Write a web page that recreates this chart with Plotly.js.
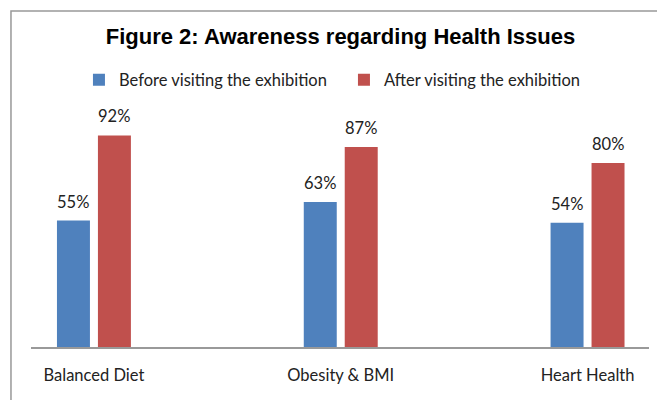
<!DOCTYPE html>
<html>
<head>
<meta charset="utf-8">
<script src="https://cdn.plot.ly/plotly-3.0.1.min.js"></script>
<style>
html,body{margin:0;padding:0;background:#fff;}
#chart{width:657px;height:400px;}
</style>
</head>
<body>
<div id="chart"></div>
<script>
var categories = ["Balanced Diet", "Obesity & BMI", "Heart Health"];
var seriesNames = ["Before visiting the exhibition", "After visiting the exhibition"];
var beforeValues = [55, 63, 54];
var afterValues = [92, 87, 80];
var titleText = "Figure 2: Awareness regarding Health Issues";

var colors = ["#4F81BD", "#C0504D"];
var xIdx = categories.map(function(c, i){ return i; });
var labelFont = "Lato, 'Open Sans', sans-serif";

var traces = [beforeValues, afterValues].map(function(vals, k){
  return {
    type: "bar",
    name: seriesNames[k],
    x: xIdx,
    y: vals,
    marker: {color: colors[k], line: {width: 0}},
    hoverinfo: "none"
  };
});

var annotations = [];
[beforeValues, afterValues].forEach(function(vals, k){
  vals.forEach(function(v, i){
    annotations.push({
      x: i, y: v, xref: "x", yref: "y",
      text: v + "%",
      showarrow: false,
      xanchor: "center", yanchor: "bottom",
      xshift: (k === 0 ? -20.5 : 20.5),
      yshift: 7,
      font: {family: labelFont, size: 16.5, color: "#222"}
    });
  });
});

var layout = {
  width: 657, height: 400,
  margin: {l: 31, r: 8, t: 117, b: 53, pad: 0},
  paper_bgcolor: "#fff", plot_bgcolor: "#fff",
  barmode: "group",
  bargap: 0.668,
  bargroupgap: 0.195,
  title: {
    text: "<b>" + titleText + "</b>",
    font: {family: "'Liberation Sans', Arial, sans-serif", size: 22, color: "#000"},
    x: 0.5008, xanchor: "center", xref: "paper",
    y: 1 - 36/400, yanchor: "middle"
  },
  showlegend: true,
  legend: {
    orientation: "h",
    x: 0.0776, xanchor: "left", xref: "paper",
    y: 1 - 80/400, yanchor: "middle", yref: "container",
    font: {family: labelFont, size: 16.5, color: "#222"},
    itemwidth: 30,
    entrywidth: 220, entrywidthmode: "pixels",
    tracegroupgap: 0,
    bgcolor: "rgba(0,0,0,0)"
  },
  xaxis: {
    range: [-0.255, 2.249],
    tickvals: xIdx,
    ticktext: categories,
    showgrid: false, zeroline: false,
    showline: true, linecolor: "#999", linewidth: 1.5,
    ticks: "outside", ticklen: 13, tickcolor: "rgba(0,0,0,0)",
    tickfont: {family: labelFont, size: 16.5, color: "#222"},
    fixedrange: true
  },
  yaxis: {
    range: [0, 100],
    visible: false,
    showgrid: false, zeroline: false,
    fixedrange: true
  },
  annotations: annotations,
  shapes: [{
    type: "path", xref: "paper", yref: "paper",
    path: "M -0.0324 -0.5 L -0.0324 1.4609 L 1.1 1.4609",
    line: {color: "#999", width: 1.5}
  }]
};

Plotly.newPlot("chart", traces, layout, {displayModeBar: false, staticPlot: true});
</script>
</body>
</html>
